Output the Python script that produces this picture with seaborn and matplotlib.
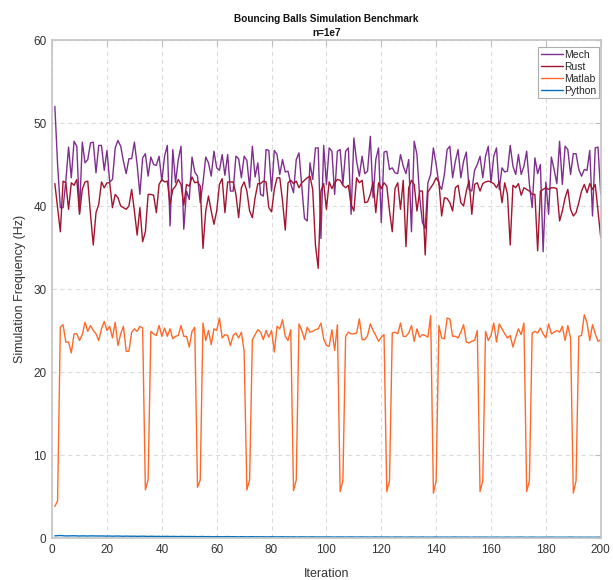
import numpy as np
import pandas as pd
import matplotlib
matplotlib.use("Agg")
import matplotlib.pyplot as plt
import seaborn as sns

mech = [52.0,45.0,39.8,39.8,43.0,47.1,43.4,47.8,47.2,39.2,47.7,45.2,45.6,47.6,47.7,44.0,47.3,47.3,44.3,46.7,
        42.9,43.2,47.0,47.9,47.2,45.4,43.9,45.7,45.7,47.7,45.0,41.4,45.8,46.3,43.6,45.9,45.0,44.9,46.0,43.0,
        46.0,47.3,37.6,46.8,42.8,45.6,47.2,37.2,41.8,40.8,
        45.9,44.1,43.6,40.4,42.8,45.9,45.2,43.6,46.6,44.6,44.3,46.2,43.7,46.2,41.8,41.8,46.0,45.7,43.4,46.0,
        45.5,42.2,47.2,43.5,45.2,41.4,41.2,46.8,46.7,41.8,46.7,46.2,43.8,45.6,44.1,44.2,42.7,41.6,45.6,46.4,
        42.4,38.5,38.2,45.2,43.2,47.0,47.0,36.1,47.3,42.6,
        47.0,46.6,41.4,46.6,46.8,42.6,46.6,47.0,39.0,48.2,45.4,43.6,46.0,43.9,44.2,48.4,41.0,45.6,47.0,38.0,
        46.5,46.6,44.4,44.6,44.0,43.9,46.2,44.8,43.9,45.6,36.9,47.8,46.2,41.0,38.0,37.3,42.8,43.8,47.0,45.0,
        42.6,42.0,43.8,46.8,47.2,43.4,45.4,46.8,43.4,45.4,
        46.5,42.0,41.8,44.3,45.0,46.0,43.4,46.0,47.2,42.8,46.0,47.0,42.0,44.6,44.1,44.2,47.3,44.8,43.8,46.2,
        43.8,44.8,46.6,42.6,39.8,45.8,43.9,45.0,34.5,42.9,39.0,45.9,44.4,42.7,47.8,42.6,47.2,46.8,43.8,46.3,
        46.3,44.4,43.6,44.4,44.3,46.7,38.8,47.0,47.1,41.4]

rust = [42.7,39.8,36.9,43.0,42.8,39.6,42.8,42.5,43.2,39.0,42.0,42.9,43.0,39.0,35.3,39.2,40.2,42.9,42.2,42.8,
        42.8,39.8,41.4,41.0,40.0,39.8,39.6,40.0,42.0,39.4,36.5,39.8,35.7,36.9,41.4,41.4,41.3,39.2,42.6,43.2,
        42.9,43.0,40.2,42.0,42.4,43.2,42.6,40.1,42.6,42.4,
        43.5,42.8,42.9,42.4,34.9,39.4,41.2,39.4,37.8,39.4,42.6,43.3,39.2,42.9,42.9,42.9,41.4,38.6,42.2,42.9,
        41.8,39.4,38.6,41.0,42.7,42.7,43.0,42.9,39.8,39.3,42.0,43.4,43.4,40.6,37.1,42.8,43.1,42.7,43.0,42.2,
        42.8,43.1,43.4,43.6,42.0,35.3,32.5,41.8,42.7,39.6,
        42.9,42.1,42.8,43.2,43.1,42.5,42.2,42.5,40.2,39.4,43.4,42.8,43.1,40.4,40.5,41.4,42.9,39.2,42.8,42.1,
        42.8,42.4,39.4,36.9,42.1,42.8,39.6,43.1,35.1,42.2,43.1,42.6,39.4,41.8,41.8,34.1,41.7,42.2,42.7,43.4,
        42.9,38.8,41.0,40.9,40.4,39.4,42.2,42.5,40.4,40.0,
        41.8,43.1,39.0,42.6,42.8,41.8,42.7,42.9,43.0,42.9,42.7,42.2,42.9,40.4,42.8,41.4,35.3,42.5,42.2,42.7,
        41.3,42.2,42.0,41.8,41.4,41.4,34.6,41.8,42.0,42.2,42.0,42.2,42.2,42.1,38.2,39.4,41.0,42.0,39.6,38.8,
        39.2,40.4,41.8,42.6,41.6,42.7,42.0,42.6,39.4,36.2]

matlab = [3.8,4.5,25.4,25.7,23.6,23.6,22.3,24.6,24.6,23.8,24.5,26.0,24.9,25.6,25.0,24.6,23.8,25.2,26.1,25.0,
          25.5,24.1,26.0,23.2,24.6,25.5,22.5,22.5,24.8,25.2,24.9,25.5,25.3,5.8,7.0,24.9,24.6,24.4,25.6,24.3,
          25.3,24.3,25.2,24.0,24.3,24.4,25.6,24.3,24.3,23.0,24.9,25.4,6.1,7.0,25.9,23.8,25.0,23.3,25.2,25.0,
          26.5,24.1,24.5,24.4,23.2,24.4,24.7,24.1,24.8,22.5,5.8,7.0,23.9,24.5,25.1,24.8,23.9,25.0,24.2,25.0,
          22.4,25.5,25.2,26.3,24.3,23.8,25.1,5.7,7.0,25.8,25.0,23.9,25.4,24.8,24.9,25.1,25.2,25.9,24.0,23.2,
          23.1,25.1,22.6,25.7,5.6,6.9,24.3,24.8,24.6,24.6,24.7,26.4,23.9,23.9,24.4,25.8,25.0,24.4,23.7,24.2,
          24.5,5.6,6.9,24.7,24.8,24.6,25.9,24.3,24.3,24.7,25.6,23.7,25.2,24.2,24.5,24.4,24.2,26.8,5.4,6.9,
          25.6,24.1,24.0,26.5,26.4,24.3,24.3,24.1,24.8,25.7,23.6,23.5,23.7,23.8,25.0,5.6,6.9,24.9,23.8,24.4,
          25.9,23.6,25.8,25.2,24.6,24.1,24.4,23.0,24.2,25.2,24.5,25.9,5.6,6.9,24.7,24.9,24.7,25.3,24.6,24.1,
          25.8,24.6,24.8,25.0,24.8,25.5,23.8,25.6,24.1,5.4,6.9,24.3,24.4,26.9,25.9,23.8,25.7,24.6,23.7,23.9]

python = [0.26,0.28,0.30,0.27,0.25,0.26,0.28,0.27,0.25,0.24,0.26,0.25,0.24,0.26,0.25,0.23,0.24,0.25,0.24,0.23,
          0.24,0.22,0.23,0.24,0.22,0.21,0.23,0.22,0.21,0.22,0.20,0.21,0.22,0.20,0.19,0.21,0.20,0.19,0.20,0.18,
          0.19,0.20,0.18,0.19,0.18,0.17,0.19,0.18,0.17,0.18,0.17,0.18,0.16,0.17,0.18,0.16,0.17,0.16,0.15,0.17,
          0.16,0.15,0.16,0.17,0.15,0.16,0.15,0.14,0.16,0.15,0.14,0.15,0.16,0.14,0.15,0.14,0.15,0.13,0.14,0.15,
          0.14,0.13,0.14,0.15,0.13,0.14,0.13,0.14,0.12,0.13,0.14,0.13,0.12,0.13,0.14,0.12,0.13,0.12,0.13,0.12,
          0.13,0.12,0.11,0.13,0.12,0.13,0.11,0.12,0.13,0.12,0.11,0.12,0.13,0.11,0.12,0.11,0.12,0.13,0.11,0.12,
          0.11,0.12,0.11,0.10,0.12,0.11,0.12,0.11,0.10,0.11,0.12,0.11,0.10,0.11,0.12,0.10,0.11,0.10,0.11,0.12,
          0.10,0.11,0.10,0.11,0.10,0.11,0.12,0.10,0.11,0.10,0.11,0.10,0.09,0.11,0.10,0.11,0.10,0.11,0.10,0.09,
          0.10,0.11,0.10,0.09,0.10,0.11,0.10,0.09,0.10,0.10,0.11,0.10,0.09,0.10,0.11,0.10,0.09,0.10,0.10,0.09,
          0.10,0.11,0.10,0.09,0.10,0.10,0.09,0.10,0.11,0.10,0.09,0.10,0.10,0.09,0.10,0.10,0.09,0.10,0.10,0.10]

series = {"Mech": mech, "Rust": rust, "Matlab": matlab, "Python": python}
colors = {"Mech": "#7E2F8E", "Rust": "#A2142F", "Matlab": "#FF6929", "Python": "#0072BD"}

rows = []
for name, vals in series.items():
    for i, v in enumerate(vals):
        rows.append({"Iteration": i + 1, "Freq": v, "Series": name})
df = pd.DataFrame(rows)

sns.set_theme(style="white")
plt.rcParams['font.family'] = ['Liberation Sans', 'DejaVu Sans']

fig = plt.figure(figsize=(6.13, 5.8), dpi=100)
ax = fig.add_axes([0.085, 0.0724, 0.895, 0.8586])

sns.lineplot(data=df, x="Iteration", y="Freq", hue="Series", palette=colors,
             hue_order=list(series.keys()), linewidth=1.0, ax=ax, legend=True, errorbar=None)

ax.set_xlim(0, 200)
ax.set_ylim(0, 60)
ax.set_xticks(np.arange(0, 201, 20))
ax.set_yticks(np.arange(0, 61, 10))
ax.grid(True, linestyle=(0, (4, 3)), color="#dcdcdc", linewidth=0.8)
for s in ax.spines.values():
    s.set_visible(True)
    s.set_color("#c4c4c4")
    s.set_linewidth(1.2)
ax.tick_params(axis="both", direction="in", length=4, width=0.8, color="#bdbdbd",
               labelsize=8.5, labelcolor="#333333", top=True, right=True, pad=4)
ax.set_xlabel("Iteration", fontsize=9, color="#333333", labelpad=9)
ax.set_ylabel("Simulation Frequency (Hz)", fontsize=9, color="#333333", labelpad=5)
ax.set_title("Bouncing Balls Simulation Benchmark\nn=1e7", fontsize=7.2, fontweight="bold",
             color="#111111", pad=3, linespacing=1.45)

leg = ax.legend(loc="upper right", bbox_to_anchor=(0.997, 0.986), fontsize=7.5, frameon=True,
                fancybox=False, handlelength=2.1, handletextpad=0.15, borderpad=0.25,
                labelspacing=0.2, borderaxespad=0.0)
leg.get_frame().set_edgecolor("#999999")
leg.get_frame().set_linewidth(0.8)
for line in leg.get_lines():
    line.set_linewidth(1.0)

fig.savefig("out.png", dpi=100)
